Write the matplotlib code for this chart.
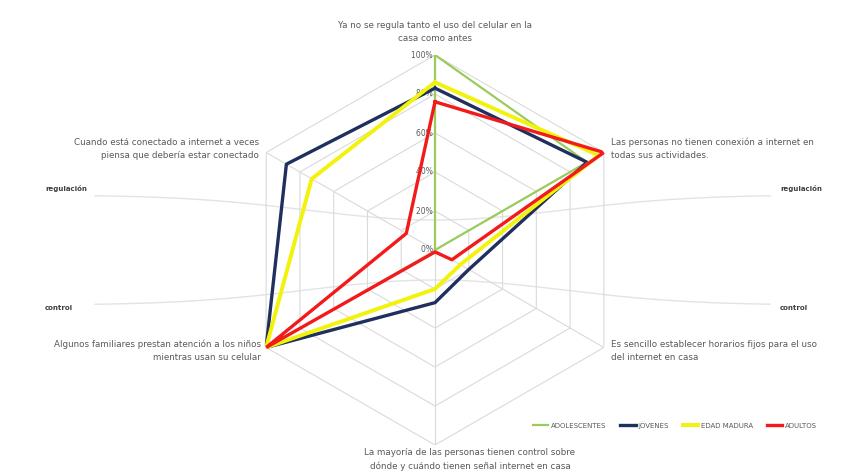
import numpy as np
import matplotlib.pyplot as plt

# statements around the hexagon, clockwise from the top
categories = [
    "Ya no se regula tanto el uso del celular en la\ncasa como antes",
    "Las personas no tienen conexión a internet en\ntodas sus actividades.",
    "Es sencillo establecer horarios fijos para el uso\ndel internet en casa",
    "La mayoría de las personas tienen control sobre\ndónde y cuándo tienen señal internet en casa",
    "Algunos familiares prestan atención a los niños\nmientras usan su celular",
    "Cuando está conectado a internet a veces\npiensa que debería estar conectado",
]

adolescentes = [1.00, 0.90, 0.00, 0.00, 0.00, 0.00]
jovenes = [0.83, 0.90, 0.20, 0.27, 1.00, 0.88]
edad_madura = [0.86, 0.97, 0.15, 0.20, 1.00, 0.73]
adultos = [0.76, 1.00, 0.10, 0.01, 1.00, 0.17]

series_names = ["ADOLESCENTES", "JÓVENES", "EDAD MADURA", "ADULTOS"]
series_colors = ["#9BCB5A", "#1F2F5E", "#F2F20A", "#F21A1A"]
series_widths = [1.6, 2.4, 2.8, 2.4]

ticks = [0, 0.2, 0.4, 0.6, 0.8, 1.0]
tick_labels = ["0%", "20%", "40%", "60%", "80%", "100%"]

W, H = 851, 475
fig = plt.figure(figsize=(W / 100, H / 100), dpi=100)
plt.rcParams['font.family'] = ['DejaVu Sans']
txt_color = "#595959"

# faint background curves with the regulación / control tags
bg = fig.add_axes([0, 0, 1, 1], zorder=0)
bg.set_xlim(0, W)
bg.set_ylim(H, 0)
bg.axis('off')
xs = np.linspace(95, 770, 300)
bump = np.exp(-((xs - 435) / 180.0) ** 2)
bg.plot(xs, 195 + 25 * bump, color="#E3E3E3", lw=1)
bg.plot(xs, 305 - 25 * bump, color="#E3E3E3", lw=1)
bg.text(45, 188, "regulación", fontsize=5, color="#404040", fontweight='bold', va='center')
bg.text(780, 188, "regulación", fontsize=5, color="#404040", fontweight='bold', va='center')
bg.text(45, 308, "control", fontsize=5, color="#404040", fontweight='bold', va='center')
bg.text(780, 308, "control", fontsize=5, color="#404040", fontweight='bold', va='center')

# radar axes, centred near (435, 250) px with a 195 px radius
cx, cy, R = 435, 250, 195
ax = fig.add_axes([(cx - R) / W, (H - cy - R) / H, 2 * R / W, 2 * R / H],
                  projection='polar', zorder=1)
ax.set_facecolor('none')
ax.set_theta_zero_location('N')
ax.set_theta_direction(-1)
ax.set_ylim(0, 1)
ax.spines['polar'].set_visible(False)
ax.grid(False)
ax.set_xticks([])
ax.set_yticks([])

n = len(categories)
angles = np.linspace(0, 2 * np.pi, n, endpoint=False)
closed = np.append(angles, angles[0])

# hexagonal rings and spokes
for t in ticks[1:]:
    ax.plot(closed, [t] * (n + 1), color="#DADADA", lw=0.8, zorder=1)
for a in angles:
    ax.plot([a, a], [0, 1], color="#DADADA", lw=0.8, zorder=1)

for t, lab in zip(ticks, tick_labels):
    ax.text(0, t, lab + " ", fontsize=5.5, color=txt_color, ha='right', va='center', zorder=2)

for vals, name, col, lw in zip([adolescentes, jovenes, edad_madura, adultos],
                               series_names, series_colors, series_widths):
    ax.plot(closed, vals + vals[:1], color=col, lw=lw, label=name, zorder=3)

# statement labels
lab_kw = dict(fontsize=6.3, color=txt_color, linespacing=1.6)
ax.text(angles[0], 1.06, categories[0], ha='center', va='bottom', **lab_kw)
ax.text(angles[1], 1.04, categories[1], ha='left', va='center', **lab_kw)
ax.text(angles[2], 1.04, categories[2], ha='left', va='center', **lab_kw)
fig.text(470 / W, 1 - 448 / H, categories[3], ha='center', va='top', **lab_kw)
ax.text(angles[4], 1.03, categories[4], ha='right', va='center', **lab_kw)
ax.text(angles[5], 1.04, categories[5], ha='right', va='center', **lab_kw)

leg = fig.legend(loc='center', bbox_to_anchor=(675 / W, 1 - 425 / H), ncol=4,
                 frameon=False, fontsize=5, handlelength=2.2, columnspacing=2.0,
                 handletextpad=0.4)
for t in leg.get_texts():
    t.set_color(txt_color)

fig.savefig("out.png", dpi=100)
